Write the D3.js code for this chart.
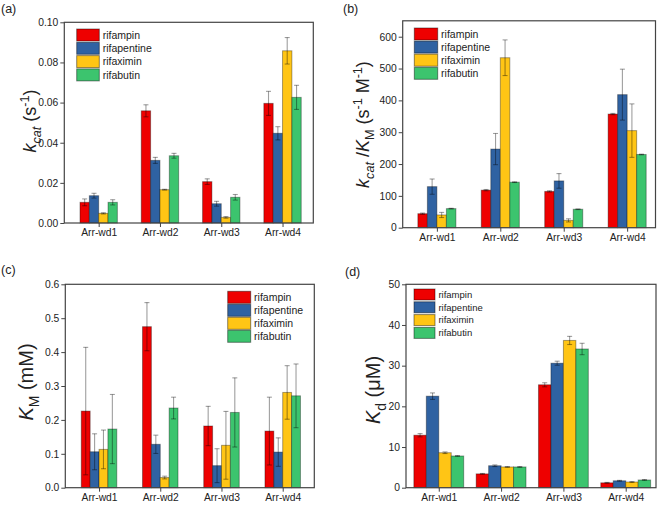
<!DOCTYPE html>
<html><head><meta charset="utf-8">
<script src="https://cdn.jsdelivr.net/npm/d3@7"></script>
<style>body{margin:0;background:#fff}svg{display:block}text{font-family:Arial,"Liberation Sans",sans-serif}</style>
</head><body>
<script>
const categories = ["Arr-wd1","Arr-wd2","Arr-wd3","Arr-wd4"];
const drugs = ["rifampin","rifapentine","rifaximin","rifabutin"];
const colors = ["#EE0000","#2F62A2","#FFC515","#3CC46E"];

// rows = drugs, columns = categories
const kcatMean = [[0.0103,0.0559,0.0206,0.0596],[0.0136,0.0312,0.0096,0.0447],[0.0048,0.0166,0.0028,0.0858],[0.0103,0.0335,0.0128,0.0626]];
const kcatErr  = [[0.0017,0.0030,0.0014,0.0060],[0.0012,0.0015,0.0012,0.0033],[0.0003,0.0002,0.0004,0.0066],[0.0013,0.0012,0.0014,0.0060]];
const effMean  = [[44,118,114,357],[129,247,147,418],[40,534,23,305],[60,143,58,230]];
const effErr   = [[2,2,2,2],[24,49,23,80],[8,56,5,84],[1,1,1,1]];
const kmMean   = [[0.226,0.475,0.182,0.167],[0.106,0.128,0.065,0.105],[0.113,0.030,0.125,0.281],[0.173,0.235,0.222,0.271]];
const kmErr    = [[0.188,0.071,0.058,0.100],[0.053,0.027,0.050,0.042],[0.057,0.004,0.100,0.079],[0.102,0.032,0.102,0.094]];
const kdMean   = [[12.9,3.4,25.3,1.2],[22.5,5.4,30.6,1.7],[8.6,5.1,36.2,1.4],[7.8,5.1,34.1,1.9]];
const kdErr    = [[0.4,0.1,0.5,0.1],[0.8,0.2,0.5,0.1],[0.2,0.1,1.0,0.1],[0.1,0.1,1.4,0.1]];

const yTicksA = [0,0.02,0.04,0.06,0.08,0.10];
const yTicksB = [0,100,200,300,400,500,600];
const yTicksC = [0,0.1,0.2,0.3,0.4,0.5,0.6];
const yTicksD = [0,10,20,30,40,50];

const svg = d3.select("body").append("svg").attr("width",660).attr("height",505);

const panels = [
 {tag:"(a)", tagX:1, tagY:13, mean:kcatMean, err:kcatErr, ticks:yTicksA, fmt:".2f", ymax:0.10,
  L:64.3,R:313.3,T:22.3,B:223, lo:0.439, hi:4.502, group:0.61,
  leg:{x:76.7,y:29,w:22.6,h:12,dy:13.3,fs:10.5},
  ylab:{x:36,y:121,parts:[["k","italic",0],["cat","italic",1],[" (s","normal",0],["-1","normal",-1],[")","normal",0]],fs:18}},
 {tag:"(b)", tagX:343, tagY:13, mean:effMean, err:effErr, ticks:yTicksB, fmt:"d", ymax:650,
  L:402.7,R:655.5,T:20.8,B:227.7, lo:0.461, hi:4.447, group:0.6,
  leg:{x:414.3,y:28,w:23.4,h:12,dy:13.1,fs:10.5},
  ylab:{x:369,y:124.5,parts:[["k","italic",0],["cat","italic",1],[" /","normal",0],["K","italic",0],["M","normal",1],[" (s","normal",0],["-1","normal",-1],[" M","normal",0],["-1","normal",-1],[")","normal",0]],fs:18}},
 {tag:"(c)", tagX:1, tagY:274, mean:kmMean, err:kmErr, ticks:yTicksC, fmt:".1f", ymax:0.6,
  L:65.3,R:314.3,T:284.3,B:487.7, lo:0.449, hi:4.516, group:0.58,
  leg:{x:227.7,y:291.3,w:23,h:12,dy:13,fs:10.5},
  ylab:{x:33,y:382,parts:[["K","italic",0],["M","normal",1],[" (mM)","normal",0]],fs:20}},
 {tag:"(d)", tagX:345, tagY:276, mean:kdMean, err:kdErr, ticks:yTicksD, fmt:"d", ymax:50,
  L:406,R:656,T:284.3,B:487.7, lo:0.474, hi:4.486, group:0.8,
  leg:{x:414,y:289,w:21,h:11,dy:12.8,fs:9.5},
  ylab:{x:380,y:390,parts:[["K","italic",0],["d","normal",1],[" (μM)","normal",0]],fs:20}}
];

panels.forEach(p => {
  const g = svg.append("g");
  const x = d3.scaleLinear().domain([p.lo,p.hi]).range([p.L,p.R]);
  const y = d3.scaleLinear().domain([0,p.ymax]).range([p.B,p.T]);
  const s = x(2)-x(1);
  const bw = s*p.group/4;

  // bars
  p.mean.forEach((row,di) => {
    row.forEach((v,ci) => {
      const cx = x(ci+1) - s*p.group/2 + di*bw;
      g.append("rect").attr("x",cx).attr("y",y(v)).attr("width",bw).attr("height",y(0)-y(v))
        .attr("fill",colors[di]).attr("stroke","rgba(0,0,0,0.35)").attr("stroke-width",1);
    });
  });
  // error bars
  p.mean.forEach((row,di) => {
    row.forEach((v,ci) => {
      const e = p.err[di][ci];
      const mx = x(ci+1) - s*p.group/2 + (di+0.5)*bw;
      const eg = g.append("g").attr("stroke","rgba(0,0,0,0.38)").attr("stroke-width",1.1);
      eg.append("line").attr("x1",mx).attr("x2",mx).attr("y1",y(v+e)).attr("y2",y(Math.max(0,v-e)));
      eg.append("line").attr("x1",mx-2.5).attr("x2",mx+2.5).attr("y1",y(v+e)).attr("y2",y(v+e));
      eg.append("line").attr("x1",mx-2.5).attr("x2",mx+2.5).attr("y1",y(Math.max(0,v-e))).attr("y2",y(Math.max(0,v-e)));
    });
  });

  // frame
  g.append("rect").attr("x",p.L).attr("y",p.T).attr("width",p.R-p.L).attr("height",p.B-p.T)
    .attr("fill","none").attr("stroke","#444").attr("stroke-width",1.2);

  // axes
  const yAxis = d3.axisLeft(y).tickValues(p.ticks).tickFormat(d3.format(p.fmt)).tickSize(4).tickPadding(2);
  const ya = g.append("g").attr("transform",`translate(${p.L},0)`).call(yAxis);
  const xAxis = d3.axisBottom(x).tickValues([1,2,3,4]).tickFormat((d,i)=>categories[i]).tickSize(4).tickPadding(2);
  const xa = g.append("g").attr("transform",`translate(0,${p.B})`).call(xAxis);
  [ya,xa].forEach(a => {
    a.select(".domain").remove();
    a.selectAll(".tick line").attr("stroke","#444").attr("stroke-width",1);
    a.selectAll("text").attr("font-size",10.3).attr("fill","#222").style("font-family","Arial, 'Liberation Sans', sans-serif");
  });

  // legend
  drugs.forEach((d,i) => {
    const ly = p.leg.y + i*p.leg.dy;
    g.append("rect").attr("x",p.leg.x).attr("y",ly).attr("width",p.leg.w).attr("height",p.leg.h)
      .attr("fill",colors[i]).attr("stroke","rgba(0,0,0,0.45)").attr("stroke-width",1);
    g.append("text").attr("x",p.leg.x+p.leg.w+3.4).attr("y",ly+p.leg.h/2).attr("dy","0.35em")
      .attr("font-size",p.leg.fs).attr("fill","#222").text(d);
  });

  // panel tag
  g.append("text").attr("x",p.tagX).attr("y",p.tagY).attr("font-size",12.5).attr("fill","#222").text(p.tag);

  // y label
  const t = g.append("text").attr("transform",`translate(${p.ylab.x},${p.ylab.y}) rotate(-90)`)
    .attr("text-anchor","middle").attr("font-size",p.ylab.fs).attr("fill","#222");
  let shift = 0;
  p.ylab.parts.forEach(([txt,style,pos]) => {
    const want = pos===1 ? p.ylab.fs*0.28 : pos===-1 ? -p.ylab.fs*0.4 : 0;
    const ts = t.append("tspan").text(txt).attr("font-style",style).attr("dy",want-shift);
    if (pos!==0) ts.attr("font-size",p.ylab.fs*0.7);
    shift = want;
  });
});
</script>
</body></html>
